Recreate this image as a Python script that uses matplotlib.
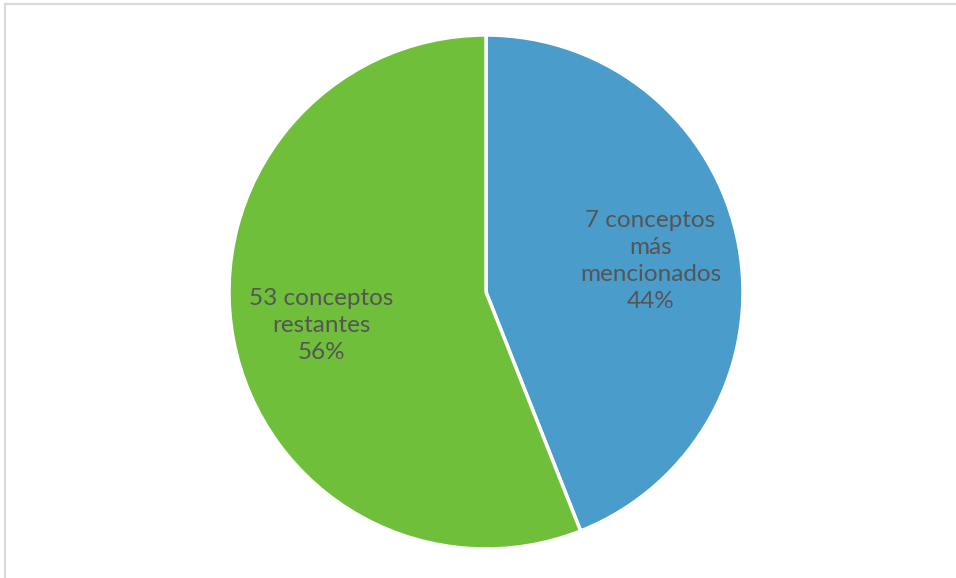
import matplotlib.pyplot as plt
from matplotlib.lines import Line2D

labels = ['7 conceptos\nmás\nmencionados', '53 conceptos\nrestantes']
values = [44, 56]
colors = ['#4A9CCB', '#6FBF3A']

fig = plt.figure(figsize=(9.56, 5.78), dpi=100)

# light gray frame, only left and top visible
fig.add_artist(Line2D([5/956, 5/956], [0, 1 - 4/578], color='#D9D9D9', lw=1.5, transform=fig.transFigure))
fig.add_artist(Line2D([5/956, 1], [1 - 4/578, 1 - 4/578], color='#D9D9D9', lw=1.5, transform=fig.transFigure))

ax = fig.add_axes([229/956, 29/578, 514/956, 514/578])
wedges, texts = ax.pie(values, colors=colors, startangle=90, counterclock=False,
                       wedgeprops=dict(edgecolor='white', linewidth=2.5))
ax.set_xlim(-1, 1)
ax.set_ylim(-1, 1)
ax.set_aspect('equal')

# data labels
pos = [(0.64, 0.12), (-0.64, -0.13)]
for (x, y), lab, v in zip(pos, labels, values):
    ax.text(x, y, lab + '\n' + str(v) + '%', ha='center', va='center',
            fontsize=17.5, color='#555555', family=['Lato', 'DejaVu Sans'],
            linespacing=1.36)

fig.savefig('out.png', dpi=100)
